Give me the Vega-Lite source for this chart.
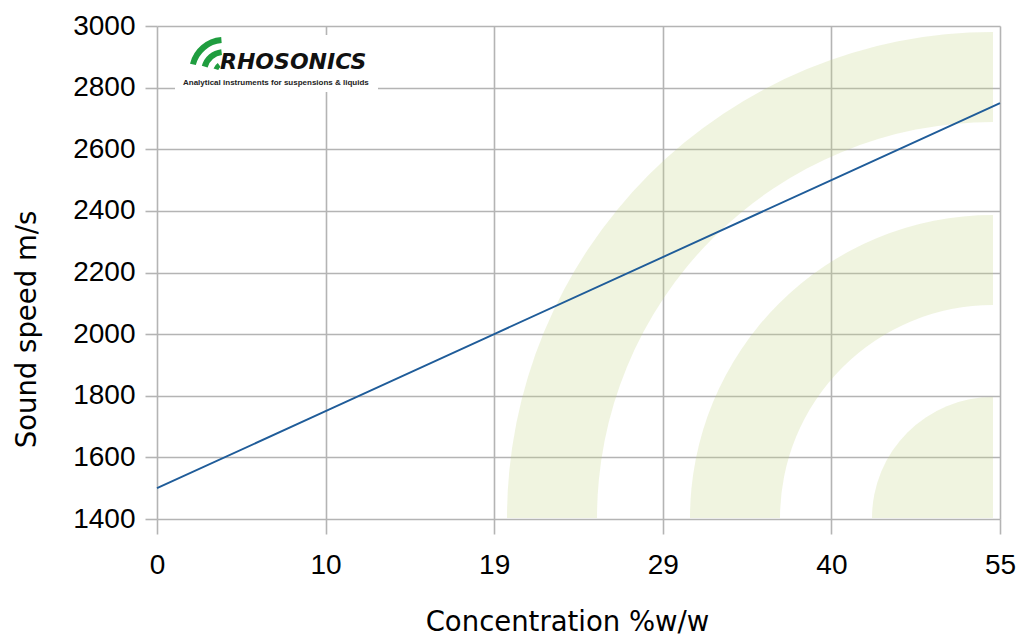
{
  "$schema": "https://vega.github.io/schema/vega-lite/v6.json",
  "width": 843,
  "height": 493,
  "autosize": {"type": "none"},
  "padding": {"left": 157, "top": 26, "right": 17, "bottom": 116},
  "background": "white",
  "config": {"view": {"stroke": null}},
  "layer": [
    {
      "data": {"values": [{}]},
      "mark": {"type": "arc", "radius": 486, "radius2": 396, "theta": 4.712389, "theta2": 6.283185, "fill": "#c3d383", "fillOpacity": 0.25, "xOffset": -7, "yOffset": -1},
      "encoding": {"x": {"datum": 55, "type": "ordinal"}, "y": {"datum": 1400, "type": "quantitative"}}
    },
    {
      "data": {"values": [{}]},
      "mark": {"type": "arc", "radius": 303, "radius2": 213, "theta": 4.712389, "theta2": 6.283185, "fill": "#c3d383", "fillOpacity": 0.25, "xOffset": -7, "yOffset": -1},
      "encoding": {"x": {"datum": 55, "type": "ordinal"}, "y": {"datum": 1400, "type": "quantitative"}}
    },
    {
      "data": {"values": [{}]},
      "mark": {"type": "arc", "radius": 121, "radius2": 0, "theta": 4.712389, "theta2": 6.283185, "fill": "#c3d383", "fillOpacity": 0.25, "xOffset": -7, "yOffset": -1},
      "encoding": {"x": {"datum": 55, "type": "ordinal"}, "y": {"datum": 1400, "type": "quantitative"}}
    },
    {
      "data": {"values": [{}]},
      "mark": {"type": "rect", "fill": "white", "xOffset": 18, "x2Offset": 221, "yOffset": 9, "y2Offset": 66},
      "encoding": {"x": {"datum": 0, "type": "ordinal"}, "x2": {"datum": 0}, "y": {"datum": 3000, "type": "quantitative"}, "y2": {"datum": 3000}}
    },
    {
      "data": {"values": [{}]},
      "mark": {"type": "arc", "radius": 35, "radius2": 29, "theta": -1.33, "theta2": -0.08, "fill": "#1f9d3f", "xOffset": 67, "yOffset": 46},
      "encoding": {"x": {"datum": 0, "type": "ordinal"}, "y": {"datum": 3000, "type": "quantitative"}}
    },
    {
      "data": {"values": [{}]},
      "mark": {"type": "arc", "radius": 23, "radius2": 17, "theta": -1.3, "theta2": -0.12, "fill": "#1f9d3f", "xOffset": 67, "yOffset": 46},
      "encoding": {"x": {"datum": 0, "type": "ordinal"}, "y": {"datum": 3000, "type": "quantitative"}}
    },
    {
      "data": {"values": [{}]},
      "mark": {"type": "arc", "radius": 11, "radius2": 6, "theta": -1.25, "theta2": -0.6, "fill": "#1f9d3f", "xOffset": 67, "yOffset": 46},
      "encoding": {"x": {"datum": 0, "type": "ordinal"}, "y": {"datum": 3000, "type": "quantitative"}}
    },
    {
      "data": {"values": [{}]},
      "mark": {"type": "text", "text": "RHOSONICS", "font": "DejaVu Sans", "fontSize": 22, "fontWeight": "bold", "fontStyle": "italic", "fill": "#111111", "align": "left", "baseline": "alphabetic", "xOffset": 63, "yOffset": 43},
      "encoding": {"x": {"datum": 0, "type": "ordinal"}, "y": {"datum": 3000, "type": "quantitative"}}
    },
    {
      "data": {"values": [{}]},
      "mark": {"type": "text", "text": "Analytical instruments for suspensions & liquids", "font": "Liberation Sans", "fontSize": 8, "fontWeight": "bold", "fill": "#222222", "align": "left", "baseline": "alphabetic", "xOffset": 26, "yOffset": 59},
      "encoding": {"x": {"datum": 0, "type": "ordinal"}, "y": {"datum": 3000, "type": "quantitative"}}
    },
    {
      "data": {"values": [
        {"conc": 0, "speed": 1500},
        {"conc": 10, "speed": 1750},
        {"conc": 19, "speed": 2000},
        {"conc": 29, "speed": 2250},
        {"conc": 40, "speed": 2500},
        {"conc": 55, "speed": 2750}
      ]},
      "mark": {"type": "line", "color": "#1f5c99", "strokeWidth": 1.9},
      "encoding": {
        "x": {"field": "conc", "type": "ordinal"},
        "y": {"field": "speed", "type": "quantitative"}
      }
    }
  ],
  "resolve": {"scale": {"x": "shared", "y": "shared"}},
  "encoding": {
    "x": {
      "type": "ordinal",
      "scale": {"type": "point", "padding": 0},
      "axis": {
        "title": "Concentration %w/w",
        "titleFont": "DejaVu Sans",
        "titleFontSize": 27.5,
        "titleFontWeight": "normal",
        "titleColor": "#000000",
        "titleX": 410,
        "titleY": 111,
        "titleAlign": "center",
        "titleBaseline": "alphabetic",
        "labelFont": "Liberation Sans",
        "labelFontSize": 28,
        "labelColor": "#000000",
        "labelAngle": 0,
        "labelFlush": false,
        "labelPadding": 17,
        "tickSize": 15,
        "tickColor": "#b4b4b4",
        "tickWidth": 1.6,
        "grid": true,
        "gridColor": "#b4b4b4",
        "gridWidth": 1.6,
        "domain": false
      }
    },
    "y": {
      "type": "quantitative",
      "scale": {"domain": [1400, 3000], "nice": false, "zero": false},
      "axis": {
        "values": [1400, 1600, 1800, 2000, 2200, 2400, 2600, 2800, 3000],
        "format": "d",
        "title": "Sound speed m/s",
        "titleFont": "DejaVu Sans",
        "titleFontSize": 27.5,
        "titleFontWeight": "normal",
        "titleColor": "#000000",
        "titleAngle": -90,
        "titleX": -122,
        "titleY": 303,
        "titleAlign": "center",
        "titleBaseline": "alphabetic",
        "labelFont": "Liberation Sans",
        "labelFontSize": 28,
        "labelColor": "#000000",
        "labelPadding": 10,
        "labelFlush": false,
        "labelOverlap": false,
        "tickSize": 12,
        "tickColor": "#b4b4b4",
        "tickWidth": 1.6,
        "grid": true,
        "gridColor": "#b4b4b4",
        "gridWidth": 1.6,
        "domain": false
      }
    }
  }
}
